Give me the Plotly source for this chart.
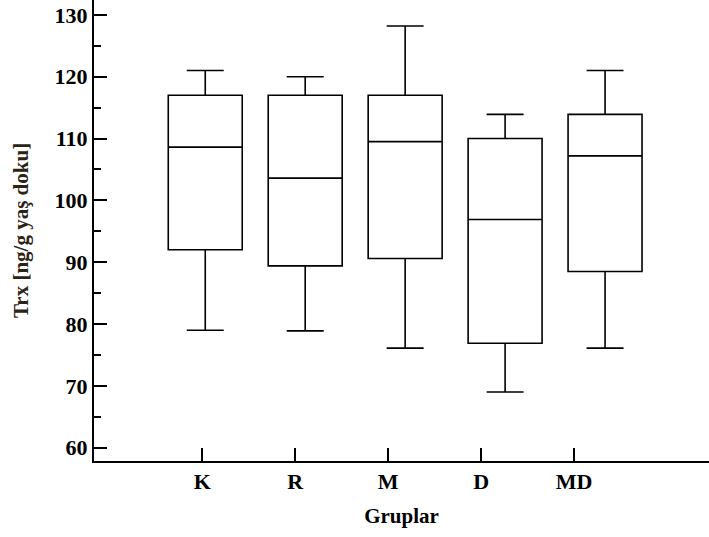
import plotly.graph_objects as go

groups = ["K", "R", "M", "D", "MD"]
lower_whisker = [79.0, 78.9, 76.1, 69.0, 76.1]
q1_vals = [92.0, 89.4, 90.6, 76.9, 88.5]
median_vals = [108.6, 103.6, 109.5, 96.9, 107.2]
q3_vals = [117.0, 117.0, 117.0, 110.0, 113.9]
upper_whisker = [121.0, 120.0, 128.2, 113.9, 121.0]
y_ticks = [60, 70, 80, 90, 100, 110, 120, 130]

positions = list(range(len(groups)))
label_positions = [i * 0.93 - 0.03 for i in positions]

FONT = "Liberation Serif"

fig = go.Figure()
fig.add_trace(go.Box(
    x=positions,
    q1=q1_vals,
    median=median_vals,
    q3=q3_vals,
    lowerfence=lower_whisker,
    upperfence=upper_whisker,
    width=0.74,
    whiskerwidth=0.5,
    fillcolor="white",
    line=dict(color="black", width=1.6),
    boxpoints=False,
    hoverinfo="skip",
    showlegend=False,
))

fig.update_layout(
    width=709, height=537,
    margin=dict(l=94, r=0, t=0, b=76),
    paper_bgcolor="white",
    plot_bgcolor="white",
    font=dict(family=FONT, color="black", size=22),
    xaxis=dict(
        range=[-1.113, 5.04],
        tickmode="array",
        tickvals=label_positions,
        ticktext=[f"<b>{g}</b>" for g in groups],
        ticks="inside", ticklen=13, tickwidth=2, tickcolor="black",
        showline=True, linecolor="black", linewidth=2,
        showgrid=False, zeroline=False,
        title=dict(text="<b>Gruplar</b>", font=dict(size=21), standoff=15),
    ),
    yaxis=dict(
        range=[57.85, 132.4],
        tickmode="array",
        tickvals=y_ticks,
        ticktext=[f"<b>{v}</b>" for v in y_ticks],
        ticks="inside", ticklen=13, tickwidth=2, tickcolor="black",
        minor=dict(dtick=5, tick0=0, ticks="inside", ticklen=7, tickwidth=2, tickcolor="black"),
        showline=True, linecolor="black", linewidth=2,
        showgrid=False, zeroline=False,
        title=dict(text="<b>Trx [ng/g yaş doku]</b>", font=dict(size=21, color="#2b2414"), standoff=20),
    ),
)

fig.write_html("out.html")
